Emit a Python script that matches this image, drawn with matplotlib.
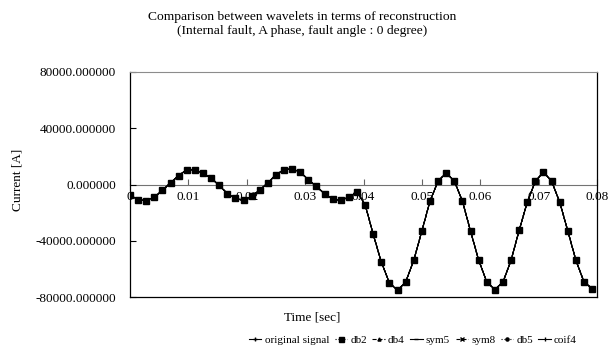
import numpy as np
import matplotlib
matplotlib.use("Agg")
import matplotlib.pyplot as plt
from matplotlib.ticker import FormatStrFormatter

plt.rcParams['font.family'] = ['Liberation Serif', 'DejaVu Serif']

# sampling: 12 samples per 60 Hz cycle
sample_period = 1 / 720
n_samples = 58

# phase A current [A]
original_signal = [
    -7400, -10900, -11400, -9000, -4200, 1200, 6400, 10500, 10500, 8000,
    4700, -700, -6400, -9900, -11300, -8400, -3900, 1100, 7100, 10500,
    11100, 8800, 3400, -1400, -6600, -10200, -11300, -9000, -5400, -14300,
    -35500, -55200, -70000, -75200, -69300, -53900, -33100, -11800, 2400, 8300,
    2400, -11800, -33100, -53700, -69300, -74700, -69300, -53900, -32600, -12500,
    2400, 8800, 2400, -12500, -33100, -53900, -69300, -74000,
]

# reconstructions overlap the original signal
db2 = original_signal
db4 = original_signal
sym5 = original_signal
sym8 = original_signal
db5 = original_signal
coif4 = original_signal

time = np.arange(n_samples) * sample_period

fig = plt.figure(figsize=(6.09, 3.52), dpi=100)
ax = fig.add_axes([130 / 609, 1 - 297 / 352, 467 / 609, 225 / 352])

series = [
    ("original signal", original_signal, dict(ls='-', marker='+', ms=3)),
    ("db2", db2, dict(ls=':', marker='s', ms=4, zorder=5)),
    ("db4", db4, dict(ls='--', marker='^', ms=2.5)),
    ("sym5", sym5, dict(ls='-', marker='_', ms=3)),
    ("sym8", sym8, dict(ls='--', marker='x', ms=2.5)),
    ("db5", db5, dict(ls=':', marker='o', ms=2.5)),
    ("coif4", coif4, dict(ls='-', marker='|', ms=3)),
]
for label, values, style in series:
    ax.plot(time, values, color='black', lw=0.8, label=label, **style)

ax.set_xlim(0, 0.08)
ax.set_ylim(-80000, 80000)
ax.set_yticks([-80000, -40000, 0, 40000, 80000])
ax.yaxis.set_major_formatter(FormatStrFormatter('%.6f'))
ax.tick_params(axis='y', direction='in', length=4, labelsize=9.5, pad=10)
ax.set_xticks([])

for side in ['left', 'right', 'bottom']:
    ax.spines[side].set_color('black')
    ax.spines[side].set_linewidth(0.9)
ax.spines['top'].set_color('0.55')
ax.spines['top'].set_linewidth(0.8)

# x axis drawn through zero
sec = ax.secondary_xaxis(0.4999)
sec.set_xticks([0, 0.01, 0.02, 0.03, 0.04, 0.05, 0.06, 0.07, 0.08])
sec.set_xticklabels(['0', '0.01', '0.02', '0.03', '0.04', '0.05', '0.06', '0.07', '0.08'])
sec.tick_params(direction='in', length=4, labelsize=9.5, pad=5, color='0.4')
sec.spines['bottom'].set_color('0.45')
sec.spines['bottom'].set_linewidth(0.8)

fig.text(302 / 609, 1 - 24 / 352,
         "Comparison between wavelets in terms of reconstruction\n"
         "(Internal fault, A phase, fault angle : 0 degree)",
         ha='center', va='center', fontsize=9.7, linespacing=1.25)
fig.text(17 / 609, 1 - 180 / 352, "Current [A]", rotation=90,
         ha='center', va='center', fontsize=9.5)
fig.text(312 / 609, 1 - 318 / 352, "Time [sec]", ha='center', va='center',
         fontsize=9.5)

fig.legend(loc='center', bbox_to_anchor=(413 / 609, 1 - 340 / 352), ncol=7,
           frameon=False, fontsize=8, handlelength=1.1, handletextpad=0.3,
           columnspacing=0.5, borderaxespad=0, markerscale=0.9)

fig.savefig("out.png", dpi=100)
